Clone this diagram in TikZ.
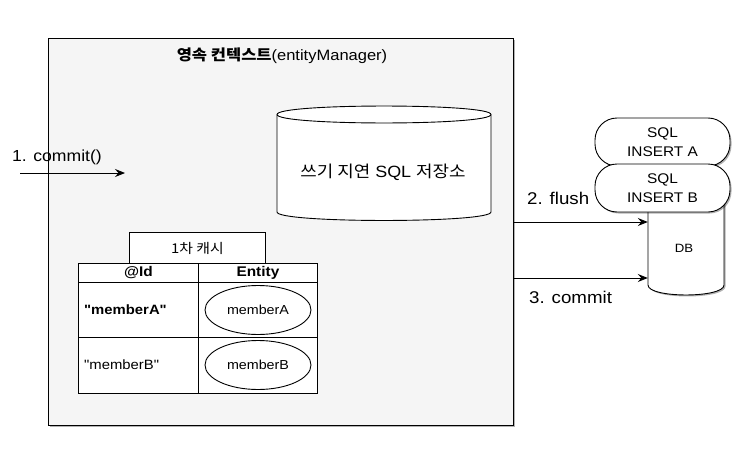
\documentclass[tikz,border=0pt]{standalone}
\usepackage{fontspec}
\setmainfont{Liberation Sans}[FakeStretch=1.1]
\newfontfamily\qf{Liberation Sans}[FakeStretch=1.1]
\newfontfamily\kr{Noto Sans CJK KR}[FakeStretch=1.1]
\usetikzlibrary{arrows.meta,shadows,shapes.geometric}
\definecolor{ctxgray}{HTML}{F5F5F5}
\tikzset{
  sh/.style={drop shadow={shadow xshift=1.5pt,shadow yshift=-1.5pt,opacity=0.3,fill=black}},
  conn/.style={line width=0.9pt,-{Stealth[length=10pt,width=8pt,inset=3.5pt]}},
  cell/.style={draw,line width=0.9pt,fill=white,anchor=north west,inner sep=0pt},
  pill/.style={draw,line width=0.9pt,fill=white,rounded corners=22pt,minimum width=135pt,minimum height=48pt,align=center,font=\fontsize{14}{19}\selectfont,sh},
  lbl/.style={font=\fontsize{17}{20}\selectfont},
  tbl/.style={font=\fontsize{13.5}{16}\selectfont},
  tblb/.style={font=\bfseries\fontsize{13.5}{16}\selectfont},
  ent/.style={draw,line width=0.9pt,ellipse,fill=white,minimum width=106pt,minimum height=49pt,inner sep=0pt,font=\fontsize{13}{16}\selectfont},
}
\begin{document}
\begin{tikzpicture}[x=1pt,y=-1pt]
\useasboundingbox (0,0) rectangle (750,455);
% persistence context box
\node[draw,line width=0.9pt,fill=ctxgray,anchor=north west,minimum width=465pt,minimum height=387pt,inner sep=0pt,sh] (ctx) at (48,38) {};
\node[font=\fontsize{15}{18}\selectfont] (title) at (282,56) {{\kr\bfseries 영속 컨텍스트}(entityManager)};
% write-behind SQL store cylinder
\path[draw,line width=0.9pt,fill=white] (277,114.5) -- (277,212) .. controls (277,223.3) and (491,223.3) .. (491,212) -- (491,114.5) .. controls (491,103.2) and (277,103.2) .. (277,114.5) -- cycle;
\draw[line width=0.9pt] (277,114.5) .. controls (277,125.8) and (491,125.8) .. (491,114.5);
\node[font=\fontsize{16.3}{20}\selectfont] (store) at (383,172) {{\kr 쓰기 지연} SQL {\kr 저장소}};
% first-level cache
\node[cell,minimum width=136pt,minimum height=31pt] (cachetab) at (129,232) {};
\node[tbl] at (cachetab.center) {{\kr 1차 캐시}};
\node[cell,minimum width=120pt,minimum height=19pt] (h1) at (78,263) {};
\node[cell,minimum width=119pt,minimum height=19pt] (h2) at (198,263) {};
\node[cell,minimum width=120pt,minimum height=55pt] (r1a) at (78,282) {};
\node[cell,minimum width=119pt,minimum height=55pt] (r1b) at (198,282) {};
\node[cell,minimum width=120pt,minimum height=56pt] (r2a) at (78,337) {};
\node[cell,minimum width=119pt,minimum height=56pt] (r2b) at (198,337) {};
\node[tblb,font=\bfseries\fontsize{14}{16}\selectfont] at (h1.center) {@Id};
\node[tblb,font=\bfseries\fontsize{14}{16}\selectfont] at (h2.center) {Entity};
\node[tblb,anchor=west,inner sep=0pt] (ka) at (84,310) {\qf"memberA"};
\node[tbl,anchor=west,inner sep=0pt] (kb) at (84,365) {\qf"memberB"};
\node[ent] (ea) at (258,310) {memberA};
\node[ent] (eb) at (258,365) {memberB};
% DB cylinder
\path[draw,line width=0.9pt,fill=white,sh] (648,200) -- (648,285) .. controls (648,298.3) and (724,298.3) .. (724,285) -- (724,200) -- cycle;
\node[inner sep=0pt,minimum width=76pt,minimum height=95pt] (db) at (686,247) {};
\node[font=\fontsize{12}{14}\selectfont] at (684,248) {DB};
% SQL pills
\node[pill] (sqla) at (662.5,142) {SQL\\INSERT A};
\node[pill] (sqlb) at (662.5,188) {SQL\\INSERT B};
% connectors
\coordinate (c1s) at (20,173);
\coordinate (c1e) at (125,173);
\draw[conn] (c1s) -- (c1e);
\node[lbl,font=\fontsize{16}{19}\selectfont,anchor=west,inner sep=0pt] (l1) at (12,157) {1. commit()};
\draw[conn] (ctx.east |- 0,222) -- (db.west |- 0,222);
\draw[conn] (ctx.east |- 0,278) -- (db.west |- 0,278);
\node[lbl,anchor=west,inner sep=0pt] (l2) at (527,198) {2. flush};
\node[lbl,anchor=west,inner sep=0pt] (l3) at (529,297) {3. commit};
\end{tikzpicture}
\end{document}
